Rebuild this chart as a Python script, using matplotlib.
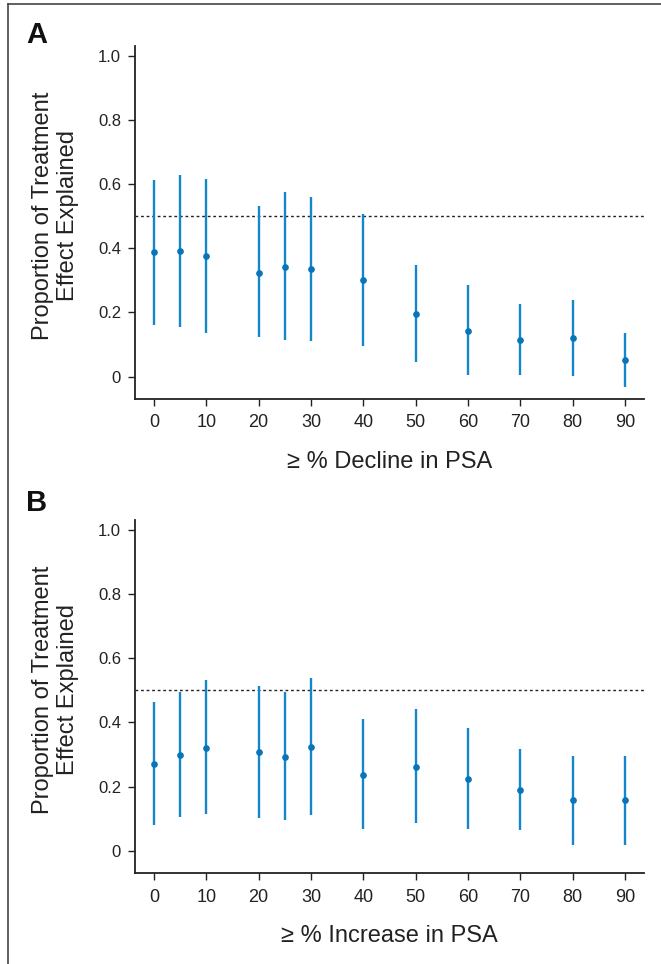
import matplotlib
matplotlib.use('Agg')
import matplotlib.pyplot as plt
from matplotlib.lines import Line2D

plt.rcParams['font.family'] = ['Liberation Sans', 'DejaVu Sans']

# x positions (% cutoff)
cutoffs = [0, 5, 10, 20, 25, 30, 40, 50, 60, 70, 80, 90]
xticks = [0, 10, 20, 30, 40, 50, 60, 70, 80, 90]

# panel A: decline in PSA
decline_est = [0.387, 0.391, 0.376, 0.324, 0.343, 0.335, 0.301, 0.195, 0.143, 0.114, 0.120, 0.052]
decline_lo = [0.161, 0.156, 0.137, 0.123, 0.114, 0.112, 0.096, 0.044, 0.004, 0.006, 0.003, -0.033]
decline_hi = [0.613, 0.629, 0.616, 0.531, 0.575, 0.560, 0.508, 0.347, 0.286, 0.227, 0.240, 0.137]

# panel B: increase in PSA
increase_est = [0.270, 0.300, 0.322, 0.308, 0.293, 0.324, 0.237, 0.262, 0.223, 0.191, 0.157, 0.157]
increase_lo = [0.080, 0.106, 0.115, 0.102, 0.096, 0.113, 0.068, 0.088, 0.069, 0.065, 0.019, 0.019]
increase_hi = [0.465, 0.496, 0.532, 0.514, 0.496, 0.538, 0.411, 0.441, 0.383, 0.317, 0.295, 0.297]

panels = [
    ('A', '≥ % Decline in PSA', decline_est, decline_lo, decline_hi),
    ('B', '≥ % Increase in PSA', increase_est, increase_lo, increase_hi),
]

W, H = 661, 964
fig = plt.figure(figsize=(W / 100., H / 100.), dpi=100)

line_col = '#1487cc'
dot_col = '#0a74b9'

ax_boxes = [[135. / W, 1 - 399. / H, 509. / W, 353. / H],
            [135. / W, 1 - 873.3 / H, 509. / W, 353.3 / H]]
letter_y = [43, 511]

for i, (letter, xlab, est, lo, hi) in enumerate(panels):
    ax = fig.add_axes(ax_boxes[i])
    ax.vlines(cutoffs, lo, hi, color=line_col, lw=1.7, zorder=2)
    ax.plot(cutoffs, est, 'o', color=dot_col, ms=3.8, zorder=3)
    ax.axhline(0.5, color='#222222', lw=1.0, ls=(0, (2, 2)), zorder=1)

    ax.set_xlim(-3.6, 93.6)
    ax.set_ylim(-0.07, 1.031)
    ax.set_xticks(xticks)
    ax.set_yticks([0, 0.2, 0.4, 0.6, 0.8, 1.0])
    ax.set_yticklabels(['0', '0.2', '0.4', '0.6', '0.8', '1.0'])
    for s in ['top', 'right']:
        ax.spines[s].set_visible(False)
    for s in ['left', 'bottom']:
        ax.spines[s].set_linewidth(1.3)
        ax.spines[s].set_color('#222222')
    ax.tick_params(axis='both', colors='#222222', length=5, width=1.0)
    ax.tick_params(axis='y', labelsize=12, pad=5)
    ax.tick_params(axis='x', labelsize=13, pad=6)
    ax.set_xlabel(xlab, fontsize=17, color='#222222', labelpad=14)
    ax.set_ylabel('Proportion of Treatment\nEffect Explained', fontsize=17,
                  color='#222222', labelpad=14, linespacing=1.15)
    ax.yaxis.label.set_y(0.52)

    fig.text(26. / W, 1 - letter_y[i] / H, letter, fontsize=21, fontweight='bold',
             ha='left', va='baseline', color='#111111')

# outer frame (left and top edges)
fig.add_artist(Line2D([8. / W, 8. / W], [0, 1 - 4. / H], transform=fig.transFigure,
                      color='#444444', lw=1.2))
fig.add_artist(Line2D([8. / W, 1], [1 - 4. / H, 1 - 4. / H], transform=fig.transFigure,
                      color='#444444', lw=1.2))

fig.savefig('out.png', dpi=100)
